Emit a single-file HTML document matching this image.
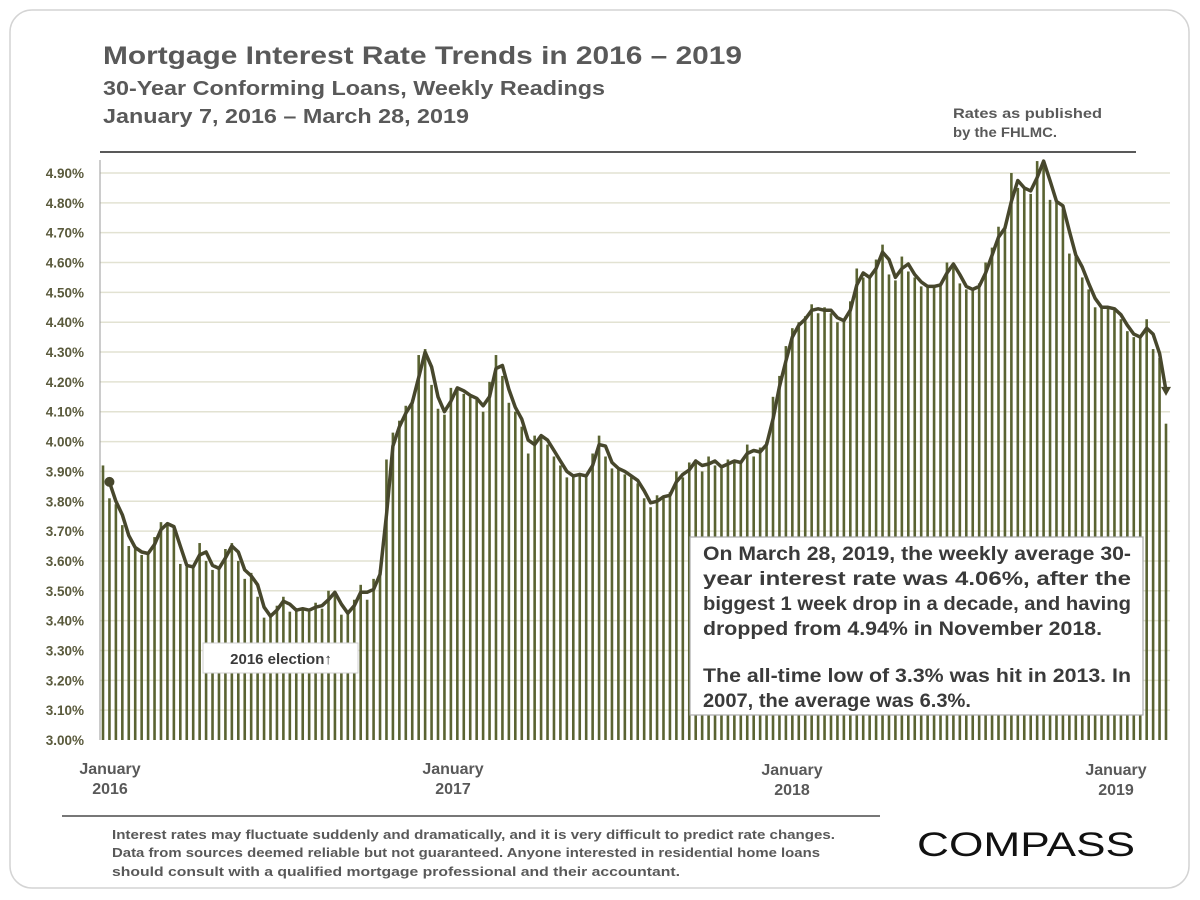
<!DOCTYPE html>
<html><head><meta charset="utf-8"><style>
html,body{margin:0;padding:0;background:#fff;}
svg{display:block;font-family:"Liberation Sans",Arial,sans-serif;}
</style></head><body>
<svg id="chart" width="1200" height="900" viewBox="0 0 1200 900" xmlns="http://www.w3.org/2000/svg">
<rect x="10" y="10" width="1179" height="878" rx="22" fill="#fff" stroke="#d4d4d4" stroke-width="1.5"/>
<g fill="#595959" font-weight="bold">
<text x="103" y="64" font-size="25" textLength="639" lengthAdjust="spacingAndGlyphs">Mortgage Interest Rate Trends in 2016 – 2019</text>
<text x="103" y="95" font-size="20" textLength="502" lengthAdjust="spacingAndGlyphs">30-Year Conforming Loans, Weekly Readings</text>
<text x="103" y="123" font-size="20" textLength="366" lengthAdjust="spacingAndGlyphs">January 7, 2016 – March 28, 2019</text>
</g>
<g fill="#595959" font-weight="bold" font-size="14">
<text x="953" y="118" textLength="149" lengthAdjust="spacingAndGlyphs">Rates as published</text>
<text x="953" y="137" textLength="104" lengthAdjust="spacingAndGlyphs">by the FHLMC.</text>
</g>
<line x1="100" y1="152" x2="1136" y2="152" stroke="#595959" stroke-width="2"/>
<g id="grid"></g>
<g id="ylabels" fill="#5a5a3c" font-size="13.5" font-weight="bold" text-anchor="end"></g>
<line x1="100" y1="160" x2="100" y2="740" stroke="#999" stroke-width="1"/>
<g id="bars" fill="#5a6332"></g>
<path id="maline" fill="none" stroke="#47472c" stroke-width="3.5" stroke-linejoin="round"/>
<circle id="startdot" r="5" fill="#47472c"/>
<path id="enddot" fill="#47472c"/>
<g fill="#595959" font-size="16" font-weight="bold" text-anchor="middle">
<text x="110" y="774"><tspan x="110">January</tspan><tspan x="110" dy="20">2016</tspan></text>
<text x="453" y="774"><tspan x="453">January</tspan><tspan x="453" dy="20">2017</tspan></text>
<text x="792" y="775"><tspan x="792">January</tspan><tspan x="792" dy="20">2018</tspan></text>
<text x="1116" y="775"><tspan x="1116">January</tspan><tspan x="1116" dy="20">2019</tspan></text>
</g>
<g>
<rect x="203" y="643" width="155" height="30" fill="#fff" stroke="#d0d0d0"/>
<text x="281" y="664" text-anchor="middle" font-size="15" font-weight="bold" fill="#3a3a3a">2016 election↑</text>
</g>
<g>
<rect x="690" y="537" width="453" height="178" fill="#fff" stroke="#aaa" stroke-width="1.2"/>
<g font-size="19" font-weight="bold" fill="#3a3a3a">
<text x="703" y="560" textLength="428" lengthAdjust="spacingAndGlyphs">On March 28, 2019, the weekly average 30-</text>
<text x="703" y="585" textLength="428" lengthAdjust="spacingAndGlyphs">year interest rate was 4.06%, after the</text>
<text x="703" y="610" textLength="428" lengthAdjust="spacingAndGlyphs">biggest 1 week drop in a decade, and having</text>
<text x="703" y="635" textLength="399" lengthAdjust="spacingAndGlyphs">dropped from 4.94% in November 2018.</text>
<text x="703" y="682" textLength="428" lengthAdjust="spacingAndGlyphs">The all-time low of 3.3% was hit in 2013. In</text>
<text x="703" y="707" textLength="268" lengthAdjust="spacingAndGlyphs">2007, the average was 6.3%.</text>
</g>
</g>
<line x1="62" y1="816" x2="880" y2="816" stroke="#777" stroke-width="2"/>
<g fill="#595959" font-size="13" font-weight="bold">
<text x="112" y="839" textLength="723" lengthAdjust="spacingAndGlyphs">Interest rates may fluctuate suddenly and dramatically, and it is very difficult to predict rate changes.</text>
<text x="112" y="857" textLength="708" lengthAdjust="spacingAndGlyphs">Data from sources deemed reliable but not guaranteed. Anyone interested in residential home loans</text>
<text x="112" y="876" textLength="568" lengthAdjust="spacingAndGlyphs">should consult with a qualified mortgage professional and their accountant.</text>
</g>
<text x="917" y="856" font-size="34" fill="#111" textLength="218" lengthAdjust="spacingAndGlyphs">COMPASS</text>
</svg>
<script>
const yTicks = [3.0,3.1,3.2,3.3,3.4,3.5,3.6,3.7,3.8,3.9,4.0,4.1,4.2,4.3,4.4,4.5,4.6,4.7,4.8,4.9];
const rates2016 = [3.92,3.81,3.79,3.72,3.65,3.64,3.62,3.63,3.68,3.73,3.72,3.71,3.59,3.58,3.58,3.66,3.60,3.57,3.58,3.64,3.66,3.60,3.54,3.56,3.48,3.41,3.42,3.45,3.48,3.43,3.44,3.44,3.43,3.46,3.44,3.50,3.49,3.42,3.43,3.47,3.52,3.47,3.54,3.57,3.94,4.03,4.07,4.12,4.14,4.29,4.31];
const rates2017 = [4.19,4.11,4.09,4.18,4.18,4.16,4.15,4.14,4.10,4.20,4.29,4.22,4.13,4.10,4.05,3.96,4.02,4.02,3.99,3.95,3.92,3.88,3.89,3.89,3.88,3.96,4.02,3.95,3.91,3.91,3.89,3.88,3.86,3.81,3.78,3.82,3.81,3.83,3.90,3.88,3.93,3.94,3.90,3.95,3.92,3.91,3.94,3.93,3.93,3.99];
const rates2018 = [3.95,3.98,4.00,4.15,4.22,4.32,4.38,4.40,4.42,4.46,4.43,4.45,4.43,4.40,4.41,4.47,4.58,4.55,4.55,4.61,4.66,4.56,4.54,4.62,4.57,4.55,4.52,4.52,4.52,4.53,4.60,4.59,4.53,4.51,4.51,4.53,4.60,4.65,4.72,4.71,4.90,4.85,4.85,4.83,4.94,4.94,4.81,4.80,4.78,4.63,4.62,4.55];
const rates2019 = [4.51,4.45,4.45,4.45,4.44,4.41,4.37,4.35,4.35,4.41,4.31,4.28,4.06];
const rates = rates2016.concat(rates2017, rates2018, rates2019);

const NS = "http://www.w3.org/2000/svg";
const yMin = 3.0, yMax = 4.9, yBottom = 740, yTop = 173;
const xFirst = 103, xLast = 1166;
function yScale(v){ return yBottom - (v - yMin) / (yMax - yMin) * (yBottom - yTop); }
function xScale(i){ return xFirst + i * (xLast - xFirst) / (rates.length - 1); }

const grid = document.getElementById('grid');
const yl = document.getElementById('ylabels');
yTicks.forEach(t => {
  const y = yScale(t);
  if (t > yMin) {
    const l = document.createElementNS(NS,'line');
    l.setAttribute('x1',100); l.setAttribute('x2',1170);
    l.setAttribute('y1',y); l.setAttribute('y2',y);
    l.setAttribute('stroke','#e2e2d2'); l.setAttribute('stroke-width','1.5');
    
    
    grid.appendChild(l);
  }
  const tx = document.createElementNS(NS,'text');
  tx.setAttribute('x',84); tx.setAttribute('y',y+5);
  tx.textContent = t.toFixed(2) + '%';
  
  
  yl.appendChild(tx);
});

const bars = document.getElementById('bars');
rates.forEach((v,i) => {
  const r = document.createElementNS(NS,'rect');
  const x = xScale(i), y = yScale(v);
  r.setAttribute('x', x - 1.3); r.setAttribute('width', 2.6);
  r.setAttribute('y', y); r.setAttribute('height', yBottom - y);
  
  
  bars.appendChild(r);
});

// two-period moving average of the weekly readings
let d = '';
for (let i = 1; i < rates.length; i++) {
  const m = (rates[i] + rates[i-1]) / 2;
  d += (i === 1 ? 'M' : 'L') + xScale(i).toFixed(1) + ',' + yScale(m).toFixed(1) + ' ';
}
document.getElementById('maline').setAttribute('d', d);
const m0 = (rates[0]+rates[1])/2;
const sd = document.getElementById('startdot');
sd.setAttribute('cx', xScale(1)); sd.setAttribute('cy', yScale(m0));
const n = rates.length;
const mEnd = (rates[n-1]+rates[n-2])/2;
const ex = xScale(n-1), ey = yScale(mEnd);
document.getElementById('enddot').setAttribute('d', `M${ex-5},${ey-4} L${ex+5},${ey-4} L${ex},${ey+5} Z`);
</script>
</body></html>
